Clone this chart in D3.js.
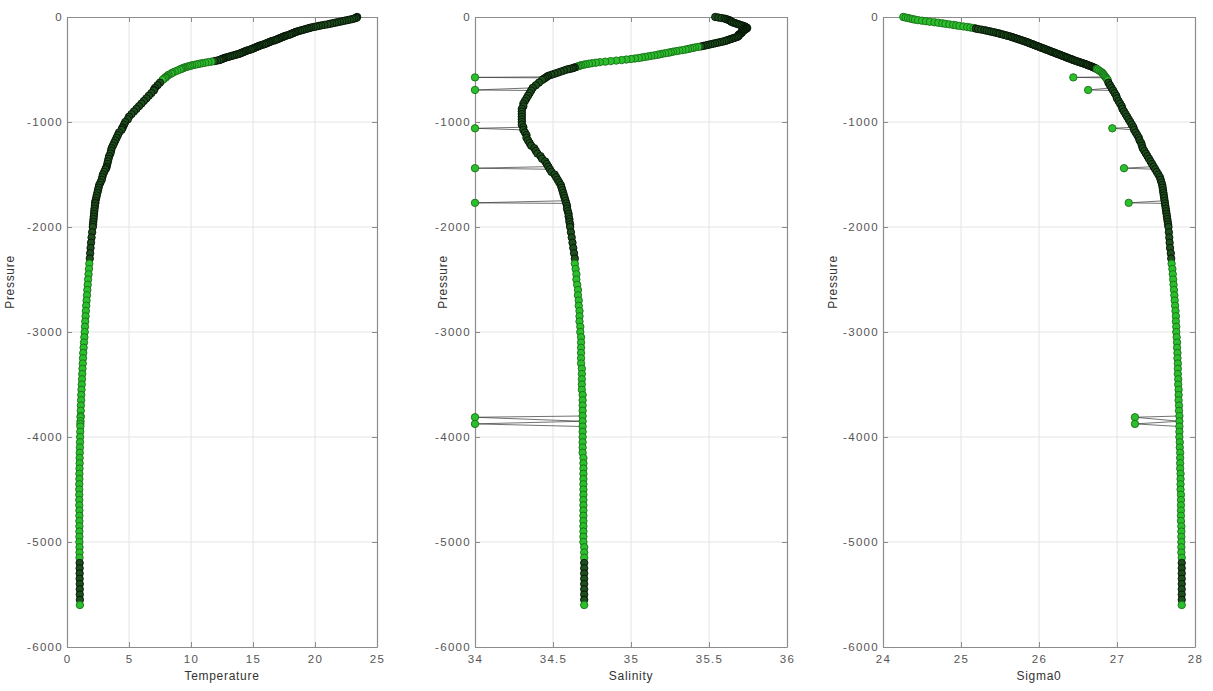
<!DOCTYPE html>
<html>
<head>
<meta charset="utf-8">
<script src="https://cdn.jsdelivr.net/npm/d3@7"></script>
<style>
  html, body { margin: 0; padding: 0; background: #fff; }
  svg { display: block; font-family: "Liberation Sans", Arial, Helvetica, sans-serif; }
  .tick text { fill: #555; font-size: 11.5px; letter-spacing: 1.3px; }
  .axis-label { fill: #333; font-size: 12px; letter-spacing: 0.7px; }
</style>
</head>
<body>
<svg id="chart" width="1213" height="691"></svg>
<script>
// pressure levels of the profile (negative = depth), the spikes are bad salinity samples
const pressure = [
  0, -5, -10, -15, -20, -25, -30, -35, -40, -45,
  -50, -55, -60, -65, -70, -75, -80, -85, -90, -95,
  -100, -105, -110, -115, -120, -125, -130, -135, -140, -145,
  -150, -155, -160, -165, -170, -175, -180, -185, -190, -195,
  -200, -205, -210, -215, -220, -225, -230, -235, -240, -245,
  -250, -255, -260, -265, -270, -275, -280, -285, -290, -295,
  -300, -305, -310, -315, -320, -325, -330, -335, -340, -345,
  -350, -355, -360, -365, -370, -375, -380, -385, -390, -395,
  -400, -405, -410, -415, -420, -425, -430, -435, -440, -445,
  -450, -455, -460, -465, -470, -475, -480, -485, -490, -495,
  -500, -510, -520, -530, -540, -550, -560, -570, -575, -580, -590, -600,
  -625, -650, -675, -695, -700, -725, -750, -775, -800,
  -825, -850, -875, -900, -925, -950, -975, -1000,
  -1025, -1050, -1060, -1075, -1100, -1125, -1150, -1175, -1200,
  -1225, -1250, -1275, -1300, -1325, -1350, -1375, -1400,
  -1425, -1440, -1450, -1475, -1500, -1525, -1550, -1575, -1600,
  -1625, -1650, -1675, -1700, -1725, -1750, -1770, -1775, -1800,
  -1825, -1850, -1875, -1900, -1925, -1950, -1975, -2000,
  -2050, -2100, -2150, -2200, -2250, -2300, -2350, -2400, -2450, -2500,
  -2550, -2600, -2650, -2700, -2750, -2800, -2850, -2900, -2950, -3000,
  -3050, -3100, -3150, -3200, -3250, -3300, -3350, -3400, -3450, -3500,
  -3550, -3600, -3650, -3700, -3750, -3800, -3812, -3850, -3875, -3900,
  -3950, -4000, -4050, -4100, -4150, -4200, -4250, -4300, -4350, -4400,
  -4450, -4500, -4550, -4600, -4650, -4700, -4750, -4800, -4850, -4900,
  -4950, -5000, -5050, -5100, -5150, -5200, -5250, -5300, -5350, -5400,
  -5450, -5500, -5550, -5600
];

const temperature = [
  23.4, 23.35, 23.3, 23.15, 23.0, 22.8, 22.6, 22.4, 22.2, 22.0,
  21.8, 21.6, 21.4, 21.2, 21.0, 20.75, 20.5, 20.3, 20.1, 19.9,
  19.7, 19.55, 19.4, 19.25, 19.1, 18.95, 18.8, 18.65, 18.5, 18.4,
  18.3, 18.2, 18.1, 18.0, 17.9, 17.75, 17.6, 17.5, 17.4, 17.3,
  17.2, 17.1, 17.0, 16.9, 16.8, 16.65, 16.5, 16.4, 16.3, 16.2,
  16.1, 16.0, 15.9, 15.75, 15.6, 15.5, 15.4, 15.3, 15.2, 15.1,
  15.0, 14.9, 14.8, 14.65, 14.5, 14.4, 14.3, 14.2, 14.1, 14.0,
  13.9, 13.75, 13.6, 13.45, 13.3, 13.15, 13.0, 12.85, 12.7, 12.6,
  12.5, 12.4, 12.3, 12.1, 11.9, 11.65, 11.4, 11.15, 10.9, 10.7,
  10.5, 10.3, 10.1, 9.95, 9.8, 9.65, 9.5, 9.4, 9.3, 9.2,
  9.1, 8.9, 8.7, 8.5, 8.4, 8.2, 8.1, 8.0, 7.95, 7.9, 7.8, 7.7,
  7.5, 7.3, 7.1, 7.0, 7.0, 6.8, 6.6, 6.4, 6.2,
  6.0, 5.8, 5.6, 5.4, 5.2, 5.0, 4.9, 4.7,
  4.6, 4.5, 4.45, 4.4, 4.2, 4.1, 4.0, 3.9, 3.8,
  3.7, 3.6, 3.55, 3.5, 3.4, 3.35, 3.3, 3.25,
  3.2, 3.15, 3.1, 3.0, 2.9, 2.85, 2.8, 2.7, 2.6,
  2.55, 2.5, 2.45, 2.4, 2.35, 2.3, 2.28, 2.27, 2.25,
  2.22, 2.2, 2.18, 2.16, 2.14, 2.12, 2.1, 2.08,
  2.03, 1.98, 1.94, 1.9, 1.87, 1.84, 1.8, 1.77, 1.74, 1.7,
  1.67, 1.64, 1.61, 1.58, 1.55, 1.52, 1.5, 1.47, 1.45, 1.43,
  1.4, 1.37, 1.34, 1.31, 1.29, 1.27, 1.25, 1.23, 1.21, 1.19,
  1.17, 1.15, 1.14, 1.12, 1.11, 1.1, 1.1, 1.09, 1.08, 1.08,
  1.07, 1.06, 1.05, 1.04, 1.03, 1.02, 1.02, 1.01, 1.0, 1.0,
  0.99, 0.99, 0.99, 0.99, 0.99, 1.0, 1.0, 1.0, 1.0, 1.0,
  1.0, 1.0, 1.01, 1.01, 1.01, 1.02, 1.02, 1.02, 1.02, 1.03,
  1.03, 1.03, 1.04, 1.04
];

const salinity = [
  35.54, 35.56, 35.58, 35.6, 35.61, 35.62, 35.63, 35.635, 35.64, 35.645,
  35.65, 35.66, 35.67, 35.68, 35.69, 35.70, 35.71, 35.72, 35.73, 35.735,
  35.74, 35.745, 35.74, 35.735, 35.73, 35.725, 35.72, 35.715, 35.71, 35.71,
  35.71, 35.705, 35.70, 35.695, 35.69, 35.69, 35.69, 35.685, 35.68, 35.67,
  35.66, 35.65, 35.64, 35.63, 35.62, 35.61, 35.60, 35.585, 35.57, 35.555,
  35.54, 35.525, 35.51, 35.495, 35.48, 35.465, 35.45, 35.43, 35.41, 35.395,
  35.38, 35.365, 35.35, 35.33, 35.31, 35.29, 35.27, 35.255, 35.24, 35.22,
  35.20, 35.185, 35.17, 35.15, 35.13, 35.11, 35.09, 35.07, 35.05, 35.025,
  35.00, 34.97, 34.94, 34.905, 34.87, 34.835, 34.80, 34.775, 34.75, 34.73,
  34.71, 34.695, 34.68, 34.67, 34.66, 34.65, 34.64, 34.63, 34.62, 34.605,
  34.59, 34.57, 34.55, 34.53, 34.51, 34.49, 34.47, 34.46, 34.0, 34.45, 34.44, 34.43,
  34.41, 34.39, 34.37, 34.0, 34.36, 34.35, 34.34, 34.33, 34.32,
  34.31, 34.31, 34.30, 34.30, 34.30, 34.30, 34.30, 34.30,
  34.30, 34.31, 34.0, 34.31, 34.32, 34.33, 34.33, 34.34, 34.35,
  34.36, 34.38, 34.39, 34.40, 34.42, 34.43, 34.45, 34.46,
  34.47, 34.0, 34.48, 34.49, 34.51, 34.52, 34.53, 34.54, 34.55,
  34.555, 34.56, 34.565, 34.57, 34.575, 34.58, 34.0, 34.585, 34.59,
  34.59, 34.595, 34.6, 34.6, 34.605, 34.605, 34.61, 34.61,
  34.615, 34.62, 34.625, 34.63, 34.635, 34.64, 34.64, 34.645, 34.65, 34.65,
  34.655, 34.66, 34.66, 34.665, 34.665, 34.67, 34.67, 34.67, 34.675, 34.675,
  34.68, 34.68, 34.68, 34.68, 34.68, 34.68, 34.685, 34.685, 34.685, 34.685,
  34.685, 34.69, 34.69, 34.69, 34.69, 34.69, 34.0, 34.69, 34.0, 34.69,
  34.69, 34.69, 34.69, 34.69, 34.69, 34.695, 34.695, 34.695, 34.695, 34.695,
  34.695, 34.695, 34.695, 34.695, 34.695, 34.695, 34.695, 34.695, 34.695, 34.695,
  34.695, 34.695, 34.7, 34.7, 34.7, 34.7, 34.7, 34.7, 34.7, 34.7,
  34.7, 34.7, 34.7, 34.7
];

const sigma0 = [
  24.26, 24.29, 24.32, 24.35, 24.38, 24.41, 24.45, 24.5, 24.55, 24.6,
  24.66, 24.71, 24.76, 24.8, 24.85, 24.9, 24.94, 24.98, 25.03, 25.08,
  25.12, 25.16, 25.19, 25.22, 25.26, 25.3, 25.33, 25.36, 25.39, 25.42,
  25.45, 25.48, 25.50, 25.53, 25.55, 25.58, 25.60, 25.63, 25.65, 25.67,
  25.69, 25.71, 25.73, 25.75, 25.77, 25.79, 25.81, 25.83, 25.85, 25.865,
  25.88, 25.9, 25.92, 25.935, 25.95, 25.97, 25.99, 26.005, 26.02, 26.04,
  26.06, 26.075, 26.09, 26.11, 26.13, 26.145, 26.16, 26.18, 26.20, 26.215,
  26.23, 26.25, 26.27, 26.285, 26.30, 26.32, 26.34, 26.355, 26.37, 26.39,
  26.41, 26.425, 26.44, 26.46, 26.48, 26.5, 26.52, 26.54, 26.56, 26.58,
  26.60, 26.615, 26.63, 26.65, 26.67, 26.685, 26.70, 26.715, 26.73, 26.74,
  26.75, 26.77, 26.79, 26.81, 26.82, 26.83, 26.84, 26.85, 26.44, 26.86, 26.87, 26.88,
  26.89, 26.91, 26.93, 26.63, 26.95, 26.97, 26.99, 27.00, 27.02,
  27.04, 27.06, 27.07, 27.09, 27.11, 27.13, 27.15, 27.17,
  27.19, 27.21, 26.94, 27.22, 27.24, 27.26, 27.28, 27.29, 27.31,
  27.32, 27.33, 27.35, 27.37, 27.39, 27.41, 27.43, 27.45,
  27.47, 27.09, 27.49, 27.51, 27.53, 27.55, 27.56, 27.57, 27.58,
  27.585, 27.59, 27.595, 27.6, 27.605, 27.61, 27.15, 27.615, 27.62,
  27.625, 27.63, 27.635, 27.64, 27.645, 27.65, 27.655, 27.66,
  27.665, 27.67, 27.675, 27.68, 27.69, 27.695, 27.7, 27.71, 27.715, 27.72,
  27.725, 27.73, 27.735, 27.74, 27.745, 27.75, 27.755, 27.755, 27.76, 27.76,
  27.765, 27.77, 27.77, 27.775, 27.775, 27.78, 27.78, 27.78, 27.785, 27.785,
  27.79, 27.79, 27.79, 27.795, 27.795, 27.8, 27.23, 27.8, 27.23, 27.8,
  27.8, 27.8, 27.805, 27.805, 27.81, 27.81, 27.81, 27.81, 27.815, 27.815,
  27.815, 27.815, 27.82, 27.82, 27.82, 27.82, 27.82, 27.82, 27.825, 27.825,
  27.825, 27.825, 27.825, 27.825, 27.83, 27.83, 27.83, 27.83, 27.83, 27.83,
  27.83, 27.83, 27.83, 27.83
];

const pressureTicks = [0, -1000, -2000, -3000, -4000, -5000, -6000];
const temperatureTicks = [0, 5, 10, 15, 20, 25];
const salinityTicks = [34, 34.5, 35, 35.5, 36];
const sigma0Ticks = [24, 25, 26, 27, 28];

[temperature, salinity, sigma0].forEach((arr) => {
  if (arr.length !== pressure.length) throw new Error("length mismatch " + arr.length + " vs " + pressure.length);
});

const svg = d3.select("#chart");

const plotTop = 17;
const plotBottom = 647;

const panels = [
  { label: "Temperature", values: temperature, ticks: temperatureTicks, domain: [0, 25],
    left: 67, right: 377, ylabelX: 10, darkBands: [[0, 420], [620, 2300], [5180, 5590]] },
  { label: "Salinity", values: salinity, ticks: salinityTicks, domain: [34, 36],
    left: 475, right: 787, ylabelX: 443, darkBands: [[0, 280], [480, 2300], [5180, 5590]] },
  { label: "Sigma0", values: sigma0, ticks: sigma0Ticks, domain: [24, 28],
    left: 883, right: 1195, ylabelX: 833, darkBands: [[110, 490], [620, 2300], [5180, 5590]] },
];

const y = d3.scaleLinear().domain([-6000, 0]).range([plotBottom, plotTop]);

const axisColor = "#8c8c8c";

panels.forEach((p) => {
  const x = d3.scaleLinear().domain(p.domain).range([p.left, p.right]);
  const g = svg.append("g");

  // grid
  g.append("g")
    .selectAll("line")
    .data(p.ticks.slice(1, -1))
    .join("line")
    .attr("x1", (d) => x(d)).attr("x2", (d) => x(d))
    .attr("y1", plotTop).attr("y2", plotBottom)
    .attr("stroke", "#e4e4e4");
  g.append("g")
    .selectAll("line")
    .data(pressureTicks.slice(1, -1))
    .join("line")
    .attr("x1", p.left).attr("x2", p.right)
    .attr("y1", (d) => y(d)).attr("y2", (d) => y(d))
    .attr("stroke", "#e4e4e4");

  // axes, ticks inward
  const xb = g.append("g").attr("transform", `translate(0,${plotBottom})`)
    .call(d3.axisBottom(x).tickValues(p.ticks).tickSize(-5).tickSizeOuter(0).tickPadding(8).tickFormat((d) => String(d)));
  const xt = g.append("g").attr("transform", `translate(0,${plotTop})`)
    .call(d3.axisTop(x).tickValues(p.ticks).tickSize(-5).tickSizeOuter(0).tickFormat(""));
  const yl = g.append("g").attr("transform", `translate(${p.left},0)`)
    .call(d3.axisLeft(y).tickValues(pressureTicks).tickSize(-5).tickSizeOuter(0).tickPadding(4).tickFormat((d) => String(d)));
  const yr = g.append("g").attr("transform", `translate(${p.right},0)`)
    .call(d3.axisRight(y).tickValues(pressureTicks).tickSize(-5).tickSizeOuter(0).tickFormat(""));
  [xb, xt, yl, yr].forEach((a) => {
    a.select(".domain").attr("stroke", axisColor).attr("stroke-width", 1.2);
    a.selectAll(".tick line").attr("stroke", axisColor);
    a.attr("font-family", null).attr("font-size", null);
  });

  // axis labels
  g.append("text").attr("class", "axis-label")
    .attr("x", (p.left + p.right) / 2).attr("y", 680)
    .attr("text-anchor", "middle").text(p.label);
  g.append("text").attr("class", "axis-label")
    .attr("transform", `translate(${p.ylabelX + 4},282) rotate(-90)`)
    .attr("text-anchor", "middle").text("Pressure");

  const pts = pressure.map((pr, i) => ({ p: pr, v: p.values[i] }));
  const line = d3.line().x((d) => x(d.v)).y((d) => y(d.p));

  g.append("path").datum(pts)
    .attr("d", line)
    .attr("fill", "none")
    .attr("stroke", "#333")
    .attr("stroke-width", 0.7);

  const isDark = (d, i) => {
    // isolated spike samples stay bright
    const prev = pts[i - 1], next = pts[i + 1];
    if (prev && next && Math.abs(x(d.v) - x(prev.v)) > 12 && Math.abs(x(d.v) - x(next.v)) > 12) return false;
    return p.darkBands.some(([a, b]) => -d.p >= a && -d.p <= b);
  };

  g.append("g").selectAll("circle")
    .data(pts)
    .join("circle")
    .attr("cx", (d) => x(d.v))
    .attr("cy", (d) => y(d.p))
    .attr("r", 3.7)
    .attr("fill", (d, i) => (isDark(d, i) ? "#1d4f1d" : "#2cbf2c"))
    .attr("stroke", (d, i) => (isDark(d, i) ? "#061206" : "#1a6e1a"))
    .attr("stroke-width", 0.9);
});
</script>
</body>
</html>
